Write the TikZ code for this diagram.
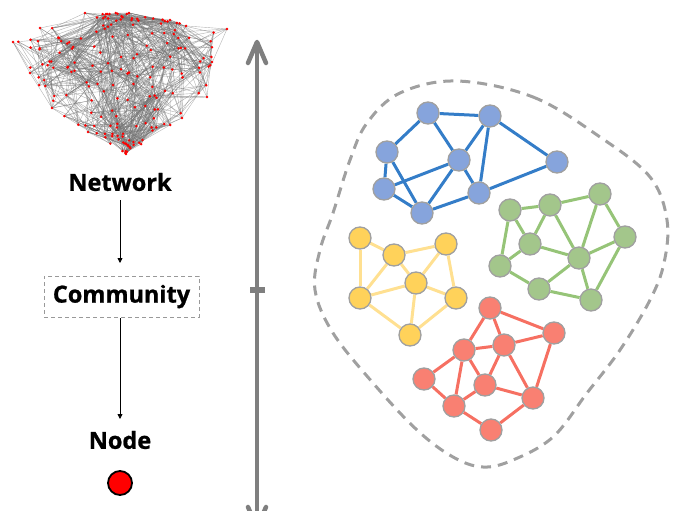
\documentclass[tikz,border=0pt]{standalone}
\usepackage{fontspec}
\newfontfamily\labelfont{Open Sans}[BoldFeatures={FakeBold=1}]
\usetikzlibrary{arrows.meta,backgrounds}

\definecolor{blueN}{RGB}{134,164,220}
\definecolor{blueE}{RGB}{52,125,200}
\definecolor{yellowN}{RGB}{255,210,90}
\definecolor{yellowE}{RGB}{255,224,145}
\definecolor{greenN}{RGB}{163,198,139}
\definecolor{greenE}{RGB}{150,196,120}
\definecolor{redN}{RGB}{249,128,114}
\definecolor{redE}{RGB}{246,112,98}
\definecolor{ringgray}{RGB}{160,160,160}
\definecolor{axisgray}{RGB}{127,127,127}

\tikzset{
  cnode/.style={circle,inner sep=0pt,minimum size=22pt,draw=ringgray,line width=1.3pt},
  bn/.style={cnode,fill=blueN},
  yn/.style={cnode,fill=yellowN},
  gn/.style={cnode,fill=greenN},
  rn/.style={cnode,fill=redN},
  be/.style={draw=blueE,line width=3pt},
  ye/.style={draw=yellowE,line width=3pt},
  ge/.style={draw=greenE,line width=3pt},
  re/.style={draw=redE,line width=3pt},
  lbl/.style={font=\labelfont\bfseries\fontsize{23.5}{26}\selectfont,inner sep=0pt},
  flow/.style={draw=black,line width=0.8pt,-{Triangle[length=5pt,width=5pt]}},
  netedge/.style={draw=black!55,line width=0.4pt,opacity=0.55},
  netdot/.style={circle,fill=red,inner sep=0pt,minimum size=2.8pt},
  axisline/.style={draw=axisgray,line width=4.5pt,line cap=round,line join=round},
}

\begin{document}
\begin{tikzpicture}[x=1pt,y=-1pt]
\useasboundingbox (0,0) rectangle (677,511);

% ---------- small random network (top left) ----------
% random points between a left and a right outline that depend on y
\def\NN{180}
\pgfmathsetseed{23}
\foreach \i in {1,...,\NN}{
  \pgfmathsetmacro\yy{13+141*rnd^1.1}
  \pgfmathsetmacro\lx{\yy<42 ? 85-72*(\yy-13)/29 : (\yy<73 ? 13+17*(\yy-42)/31 :
      (\yy<108 ? 30+22*(\yy-73)/35 : (\yy<132 ? 52+36*(\yy-108)/24 : 88+38*(\yy-132)/22)))}
  \pgfmathsetmacro\rx{\yy<29 ? 129+98*(\yy-13)/16 : (\yy<62 ? 227-15*(\yy-29)/33 :
      (\yy<97 ? 212-5*(\yy-62)/35 : (\yy<118 ? 207-25*(\yy-97)/21 : 182-56*(\yy-118)/36)))}
  \pgfmathsetmacro\xx{\lx+(\rx-\lx)*rnd}
  \expandafter\xdef\csname netx\i\endcsname{\xx}
  \expandafter\xdef\csname nety\i\endcsname{\yy}
  \coordinate (n\i) at (\xx,\yy);
}
% fixed points on the outline
\foreach \px/\py [count=\c] in {13/42,85/13,129/13,227/29,212/62,207/97,182/118,126/154,88/132,52/108,30/73,170/20,40/28}{
  \pgfmathtruncatemacro\i{\NN+\c}
  \expandafter\xdef\csname netx\i\endcsname{\px}
  \expandafter\xdef\csname nety\i\endcsname{\py}
  \coordinate (n\i) at (\px,\py);
}
\pgfmathtruncatemacro\NT{\NN+13}
\foreach \i in {1,...,\NT}{
  \foreach \k in {1,...,14}{
    \pgfmathtruncatemacro\jj{random(1,\NT)}
    \pgfmathparse{veclen(\csname netx\i\endcsname-\csname netx\jj\endcsname,\csname nety\i\endcsname-\csname nety\jj\endcsname)}
    \ifdim\pgfmathresult pt<72pt
      \ifnum\jj=\i\else
        \draw[netedge] (n\i) -- (n\jj);
      \fi
    \fi
  }
}
\foreach \i in {1,...,\NT}{
  \node[netdot] at (n\i) {};
}

% ---------- hierarchy labels ----------
\node[lbl] (net) at (120,182) {Network};
\node[lbl,draw=gray!80,dashed,line width=0.8pt,dash pattern=on 4pt off 3pt,
      minimum width=155pt,minimum height=41pt] (com) at (121.5,296.5) {Community};
\node[lbl] (nd) at (120,440) {Node};
\node[circle,fill=red,draw=black,line width=1.8pt,minimum size=24pt,inner sep=0pt] (dot) at (120,483) {};
\coordinate (a1s) at (120,200);
\coordinate (a1e) at (120,263);
\coordinate (a2s) at (120,318);
\coordinate (a2e) at (120,419);
\draw[flow] (a1s) -- (a1e);
\draw[flow] (a2s) -- (a2e);

% ---------- scale axis with open chevrons at both ends ----------
\coordinate (axtop) at (257,42);
\coordinate (axbot) at (257,528);
\draw[axisline,line cap=butt] (axbot) -- (axtop);
\draw[axisline] ([shift={(-9,21)}]axtop) -- (axtop) -- ([shift={(9,21)}]axtop);
\draw[axisline] ([shift={(-9,-21)}]axbot) -- (axbot) -- ([shift={(9,-21)}]axbot);
\fill[axisgray] (249.5,287) rectangle (264.5,293);

% ---------- communities ----------
% blue
\node[bn] (b1) at (428,113) {};
\node[bn] (b2) at (490,116) {};
\node[bn] (b3) at (387,152) {};
\node[bn] (b4) at (459,160) {};
\node[bn] (b5) at (557,162) {};
\node[bn] (b6) at (384,189) {};
\node[bn] (b7) at (479,193) {};
\node[bn] (b8) at (422,213) {};
% yellow
\node[yn] (y1) at (360,238) {};
\node[yn] (y2) at (394,255) {};
\node[yn] (y3) at (446,244) {};
\node[yn] (y4) at (416,283) {};
\node[yn] (y5) at (360,298) {};
\node[yn] (y6) at (456,298) {};
\node[yn] (y7) at (410,335) {};
% green
\node[gn] (g1) at (510,210) {};
\node[gn] (g2) at (550,205) {};
\node[gn] (g3) at (600,194) {};
\node[gn] (g4) at (530,244) {};
\node[gn] (g5) at (625,237) {};
\node[gn] (g6) at (579,258) {};
\node[gn] (g7) at (500,266) {};
\node[gn] (g8) at (539,289) {};
\node[gn] (g9) at (591,300) {};
% red
\node[rn] (r1) at (490,308) {};
\node[rn] (r2) at (554,333) {};
\node[rn] (r3) at (464,350) {};
\node[rn] (r4) at (504,345) {};
\node[rn] (r5) at (424,379) {};
\node[rn] (r6) at (485,385) {};
\node[rn] (r7) at (533,398) {};
\node[rn] (r8) at (454,406) {};
\node[rn] (r9) at (491,430) {};

\begin{scope}[on background layer]
  \foreach \a/\b in {b1/b2,b1/b3,b1/b4,b2/b4,b2/b7,b2/b5,b3/b6,b3/b8,b4/b6,b4/b8,b4/b7,b6/b8,b8/b7,b7/b5}
    \draw[be] (\a) -- (\b);
  \foreach \a/\b in {y1/y2,y1/y5,y2/y3,y2/y5,y2/y4,y3/y4,y3/y6,y4/y5,y4/y6,y4/y7,y5/y7,y6/y7}
    \draw[ye] (\a) -- (\b);
  \foreach \a/\b in {g1/g2,g2/g3,g1/g4,g1/g7,g2/g4,g2/g6,g3/g6,g3/g5,g4/g7,g4/g6,g6/g5,g6/g8,g6/g9,g7/g8,g8/g9,g5/g9}
    \draw[ge] (\a) -- (\b);
  \foreach \a/\b in {r1/r3,r1/r4,r1/r2,r2/r4,r2/r7,r3/r4,r3/r5,r3/r8,r3/r6,r4/r6,r4/r7,r5/r8,r6/r8,r6/r7,r8/r9,r9/r7}
    \draw[re] (\a) -- (\b);
\end{scope}

% dashed outline enclosing the communities
\draw[ringgray,line width=3pt,dash pattern=on 10pt off 7pt]
  plot[smooth cycle,tension=0.6] coordinates {
    (457,81) (533,97) (600,137) (650,177) (667,220) (664,263) (650,300)
    (620,350) (587,393) (553,437) (513,460) (483,467) (453,457) (417,430)
    (373,383) (333,333) (315,290) (320,250) (333,213) (350,160) (367,123) (400,93)};

\end{tikzpicture}
\end{document}
